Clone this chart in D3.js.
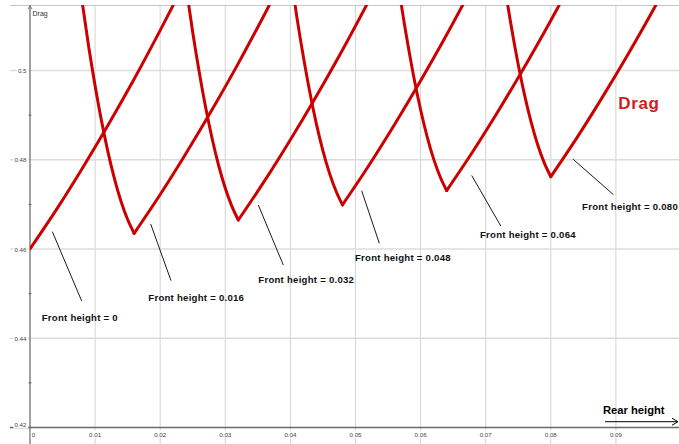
<!DOCTYPE html>
<html>
<head>
<meta charset="utf-8">
<script src="https://cdn.jsdelivr.net/npm/d3@7/dist/d3.min.js"></script>
<style>
  html, body { margin: 0; padding: 0; background: #fff; }
  svg { display: block; }
</style>
</head>
<body>
<svg id="chart" width="679" height="444"></svg>
<script>
// Drag against rear height, one curve per front height.
const frontHeights = [0, 0.016, 0.032, 0.048, 0.064, 0.080];
const frontLabels = [
  "Front height = 0", "Front height = 0.016", "Front height = 0.032",
  "Front height = 0.048", "Front height = 0.064", "Front height = 0.080"
];

// Branch where rear height is below front height (drag falls towards the minimum)
const fallRear = [
  [],
  [0.007, 0.008, 0.009, 0.010, 0.011, 0.012, 0.013, 0.014, 0.015, 0.016],
  [0.023, 0.024, 0.025, 0.026, 0.027, 0.028, 0.029, 0.030, 0.031, 0.032],
  [0.039, 0.040, 0.041, 0.042, 0.043, 0.044, 0.045, 0.046, 0.047, 0.048],
  [0.055, 0.056, 0.057, 0.058, 0.059, 0.060, 0.061, 0.062, 0.063, 0.064],
  [0.071, 0.072, 0.073, 0.074, 0.075, 0.076, 0.077, 0.078, 0.079, 0.080]
];
const fallDrag = [
  [],
  [0.5263, 0.5155, 0.5055, 0.4966, 0.4886, 0.4816, 0.4756, 0.4706, 0.4666, 0.4635],
  [0.5293, 0.5185, 0.5085, 0.4996, 0.4916, 0.4846, 0.4786, 0.4736, 0.4696, 0.4665],
  [0.5327, 0.5219, 0.5119, 0.5030, 0.4950, 0.4880, 0.4820, 0.4770, 0.4730, 0.4699],
  [0.5359, 0.5251, 0.5151, 0.5062, 0.4982, 0.4912, 0.4852, 0.4802, 0.4762, 0.4731],
  [0.5390, 0.5282, 0.5182, 0.5093, 0.5013, 0.4943, 0.4883, 0.4833, 0.4793, 0.4762]
];

// Branch where rear height is above front height (drag rises again)
const riseRear = [
  [0.000, 0.004, 0.008, 0.012, 0.016, 0.020, 0.024],
  [0.016, 0.020, 0.024, 0.028, 0.032, 0.036, 0.040],
  [0.032, 0.036, 0.040, 0.044, 0.048, 0.052, 0.056],
  [0.048, 0.052, 0.056, 0.060, 0.064, 0.068, 0.072],
  [0.064, 0.068, 0.072, 0.076, 0.080, 0.084, 0.088],
  [0.080, 0.084, 0.088, 0.092, 0.096, 0.100, 0.104]
];
const riseDrag = [
  [0.4600, 0.4687, 0.4780, 0.4878, 0.4981, 0.5090, 0.5203],
  [0.4635, 0.4722, 0.4815, 0.4913, 0.5016, 0.5125, 0.5238],
  [0.4665, 0.4752, 0.4845, 0.4943, 0.5046, 0.5155, 0.5268],
  [0.4699, 0.4786, 0.4879, 0.4977, 0.5080, 0.5189, 0.5302],
  [0.4731, 0.4818, 0.4911, 0.5009, 0.5112, 0.5221, 0.5334],
  [0.4762, 0.4849, 0.4942, 0.5040, 0.5143, 0.5252, 0.5365]
];

const xTickValues = [0, 0.01, 0.02, 0.03, 0.04, 0.05, 0.06, 0.07, 0.08, 0.09];
const xTickLabels = ["0", "0.01", "0.02", "0.03", "0.04", "0.05", "0.06", "0.07", "0.08", "0.09"];
const yTickValues = [0.42, 0.44, 0.46, 0.48, 0.5];
const yTickLabels = ["0.42", "0.44", "0.46", "0.48", "0.5"];
const yMinorValues = [0.43, 0.45, 0.47, 0.49];

// ---- layout ----
const W = 679, H = 444;
const x = d3.scaleLinear().domain([0, 0.1]).range([30, 681]);
const y = d3.scaleLinear().domain([0.42, 0.5]).range([427.5, 70.5]);
const viewLeft = 10, viewTop = 5;

const svg = d3.select("#chart");
svg.append("rect").attr("width", W).attr("height", H).attr("fill", "#fff");

svg.append("defs").append("clipPath").attr("id", "plotClip")
  .append("rect").attr("x", x(0)).attr("y", viewTop)
  .attr("width", W - x(0)).attr("height", y(0.42) - viewTop);

// grid
const grid = svg.append("g");
grid.selectAll("line.v").data(xTickValues.filter(d => d > 0)).join("line")
  .attr("x1", d => x(d)).attr("x2", d => x(d))
  .attr("y1", viewTop).attr("y2", H)
  .attr("stroke", "#d3d3d3").attr("stroke-width", 1);
grid.selectAll("line.h").data(yTickValues.filter(d => d > 0.42)).join("line")
  .attr("x1", viewLeft).attr("x2", W)
  .attr("y1", d => y(d)).attr("y2", d => y(d))
  .attr("stroke", "#dcdcdc").attr("stroke-width", 1.4);

// top frame of the view
svg.append("line").attr("x1", viewLeft).attr("x2", W)
  .attr("y1", viewTop + 0.5).attr("y2", viewTop + 0.5)
  .attr("stroke", "#c6c6c6").attr("stroke-width", 1);

// axes
svg.append("line").attr("x1", x(0)).attr("x2", x(0))
  .attr("y1", viewTop).attr("y2", H)
  .attr("stroke", "#8a8a8a").attr("stroke-width", 1.6);
svg.append("line").attr("x1", viewLeft).attr("x2", W)
  .attr("y1", y(0.42)).attr("y2", y(0.42))
  .attr("stroke", "#6a6a6a").attr("stroke-width", 1.5);
svg.append("path")
  .attr("d", `M${x(0) - 2},${viewTop + 4} L${x(0)},${viewTop + 1} L${x(0) + 2},${viewTop + 4}`)
  .attr("fill", "none").attr("stroke", "#777").attr("stroke-width", 1);

svg.selectAll("line.minor").data(yMinorValues).join("line")
  .attr("x1", x(0) - 1.5).attr("x2", x(0) + 1.5)
  .attr("y1", d => y(d)).attr("y2", d => y(d))
  .attr("stroke", "#666").attr("stroke-width", 1);

// tick labels with white backing, as the axis labels sit on top of the grid
const tickFont = "Liberation Sans, Arial, sans-serif";
function backedText(g, tx, ty, str, anchor) {
  const t = g.append("text").attr("x", tx).attr("y", ty)
    .attr("text-anchor", anchor).attr("dominant-baseline", "central")
    .attr("font-family", tickFont).attr("font-size", 6.2).attr("fill", "#444")
    .text(str);
  const b = t.node().getBBox();
  g.insert("rect", "text").attr("x", b.x - 1).attr("y", b.y)
    .attr("width", b.width + 2).attr("height", b.height).attr("fill", "#fff");
}
const yLab = svg.append("g");
yTickValues.forEach((v, i) => {
  const g = yLab.append("g");
  backedText(g, x(0) - 3.5, y(v) - (v === 0.42 ? 3 : 0), yTickLabels[i], "end");
});
const xLab = svg.append("g");
xTickValues.forEach((v, i) => {
  const g = xLab.append("g");
  backedText(g, v === 0 ? x(v) + 3.5 : x(v), y(0.42) + 6.5, xTickLabels[i], "middle");
});

svg.append("text").attr("x", x(0) + 2.5).attr("y", 15.5)
  .attr("font-family", tickFont).attr("font-size", 7).attr("fill", "#333")
  .text("Drag");

// curves
const line = d3.line().x(d => x(d[0])).y(d => y(d[1])).curve(d3.curveMonotoneX);
const curves = svg.append("g").attr("clip-path", "url(#plotClip)");
frontHeights.forEach((f, i) => {
  const branches = [
    fallRear[i].map((r, k) => [r, fallDrag[i][k]]),
    riseRear[i].map((r, k) => [r, riseDrag[i][k]])
  ];
  branches.filter(b => b.length > 1).forEach(b => {
    curves.append("path").attr("d", line(b))
      .attr("fill", "none").attr("stroke", "#cc0000")
      .attr("stroke-width", 3).attr("stroke-linejoin", "round")
      .attr("stroke-linecap", "round");
  });
});

// callouts: leader start, leader end, label anchor (data units)
const callouts = [
  { from: [0.00343, 0.46388], to: [0.00794, 0.44835], at: [0.00180, 0.44387] },
  { from: [0.01854, 0.46560], to: [0.02166, 0.45290], at: [0.01817, 0.44835] },
  { from: [0.03507, 0.46986], to: [0.03891, 0.45641], at: [0.03507, 0.45245] },
  { from: [0.05095, 0.47306], to: [0.05366, 0.46128], at: [0.04992, 0.45738] },
  { from: [0.06785, 0.47647], to: [0.07232, 0.46515], at: [0.06912, 0.46240] },
  { from: [0.08338, 0.48017], to: [0.08960, 0.47221], at: [0.08591, 0.46874] }
];
const notes = svg.append("g");
callouts.forEach((c, i) => {
  notes.append("line")
    .attr("x1", x(c.from[0])).attr("y1", y(c.from[1]))
    .attr("x2", x(c.to[0])).attr("y2", y(c.to[1]))
    .attr("stroke", "#1a1a1a").attr("stroke-width", 1);
  const t = notes.append("text")
    .attr("x", x(c.at[0])).attr("y", y(c.at[1]))
    .attr("font-family", tickFont).attr("font-weight", "bold")
    .attr("font-size", 9.6).attr("letter-spacing", 0.25).attr("fill", "#111")
    .text(frontLabels[i]);
  // keep the rightmost label inside the view
  const b = t.node().getBBox();
  if (b.x + b.width > W - 1) t.attr("x", W - 1 - b.width);
});

// series title
svg.append("text").attr("x", x(0.09037)).attr("y", y(0.4913))
  .attr("font-family", tickFont).attr("font-weight", "bold")
  .attr("font-size", 17).attr("letter-spacing", 0.6).attr("fill", "#d41c1c")
  .text("Drag");

// horizontal axis caption with arrow
svg.append("text").attr("x", 603).attr("y", 414)
  .attr("font-family", tickFont).attr("font-weight", "bold")
  .attr("font-size", 11.2).attr("fill", "#000")
  .text("Rear height");
svg.append("line").attr("x1", 605).attr("x2", 677.5)
  .attr("y1", 421.7).attr("y2", 421.7)
  .attr("stroke", "#000").attr("stroke-width", 1);
svg.append("path").attr("d", "M672,418.2 L678,421.7 L672,425.2")
  .attr("fill", "none").attr("stroke", "#000").attr("stroke-width", 1);
</script>
</body>
</html>
